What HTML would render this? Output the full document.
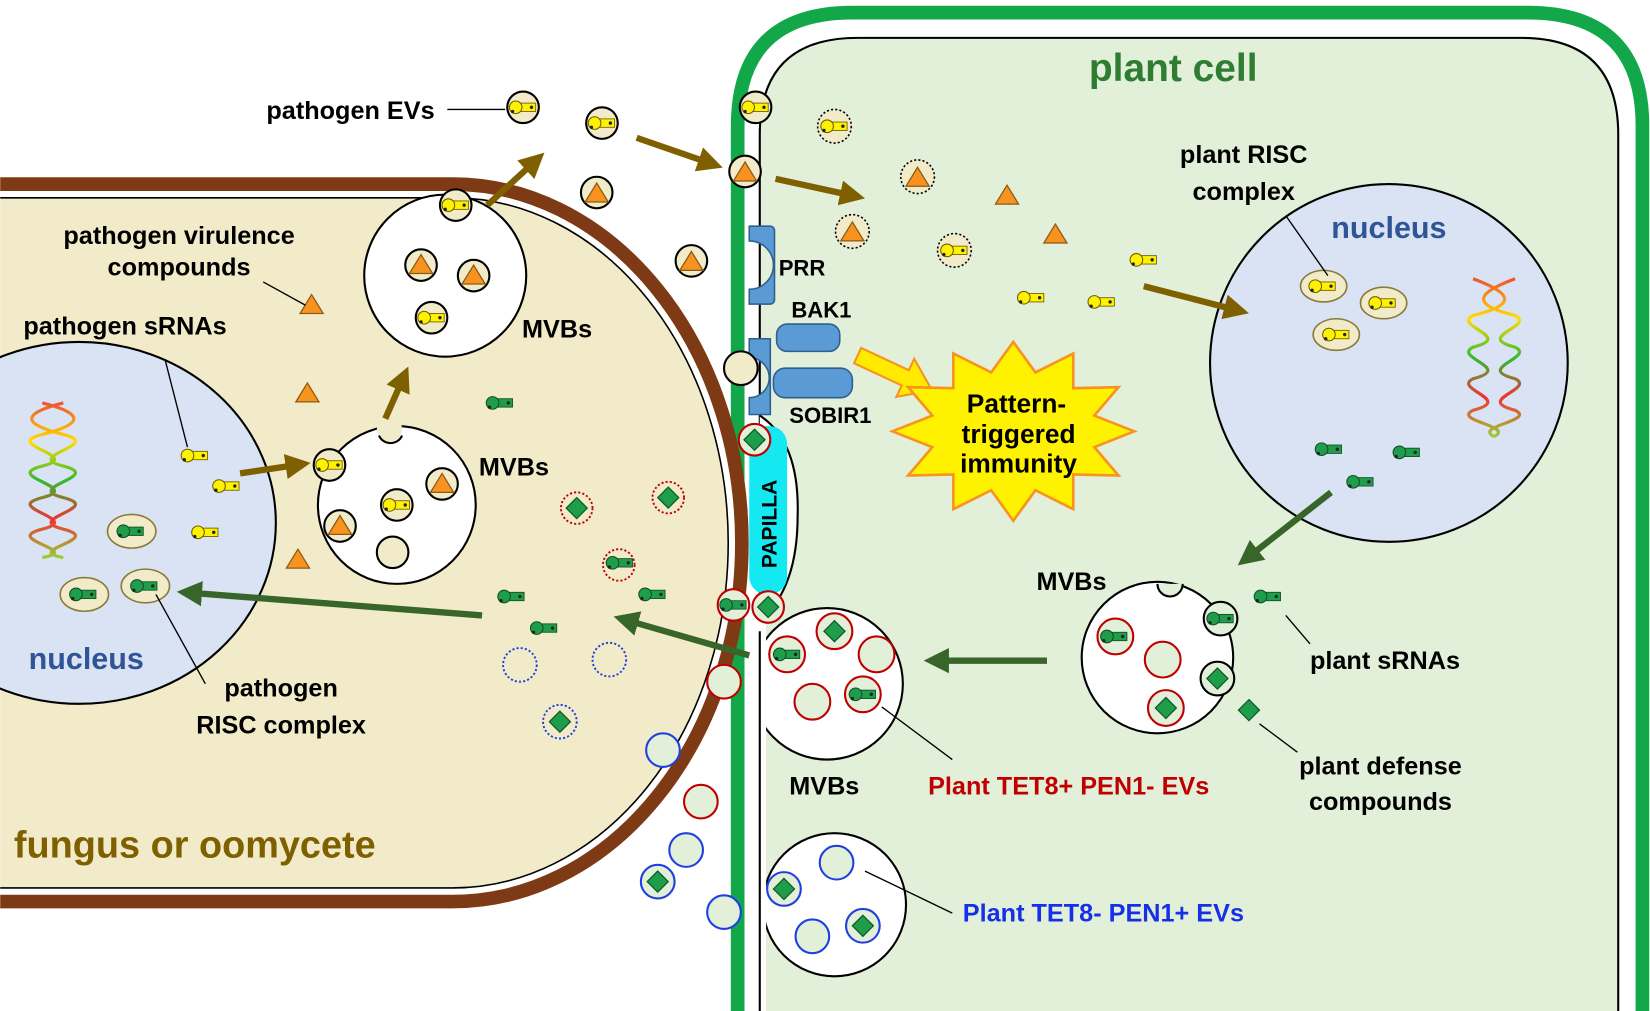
<!DOCTYPE html>
<html><head><meta charset="utf-8"><style>
html,body{margin:0;padding:0;background:#fff;width:1650px;height:1011px;overflow:hidden}
svg{display:block}
text{font-family:"Liberation Sans",sans-serif;font-weight:bold}
</style></head><body>
<svg width="1650" height="1011" viewBox="0 0 1568 961" xmlns="http://www.w3.org/2000/svg">
<defs>
<g id="ys"><rect x="2" y="-4" width="17" height="8" fill="#FFF200" stroke="#6b5a00" stroke-width="0.8"/><circle cx="0" cy="0" r="6" fill="#FFF200" stroke="#6b5a00" stroke-width="1"/><circle cx="-3" cy="4" r="1.6" fill="#222"/><circle cx="15" cy="0" r="1.6" fill="#222"/></g>
<g id="gs"><rect x="2" y="-4" width="17" height="8" fill="#1E9E4A" stroke="#124d26" stroke-width="0.8"/><circle cx="0" cy="0" r="6" fill="#1E9E4A" stroke="#124d26" stroke-width="1"/><circle cx="-3" cy="4" r="1.6" fill="#222"/><circle cx="15" cy="0" r="1.6" fill="#222"/></g>
<polygon id="tri" points="0,-10 11,8 -11,8" fill="#F7931E" stroke="#8a5a14" stroke-width="1.2"/>
<polygon id="dia" points="0,-10 10,0 0,10 -10,0" fill="#1E9E4A" stroke="#0f5a28" stroke-width="1.2"/>
<marker id="ab" viewBox="0 0 10 10" refX="7" refY="5" markerWidth="4" markerHeight="4" orient="auto"><path d="M0,0 L10,5 L0,10 z" fill="#7F6000"/></marker>
<marker id="ag" viewBox="0 0 10 10" refX="7" refY="5" markerWidth="4" markerHeight="4" orient="auto"><path d="M0,0 L10,5 L0,10 z" fill="#38662A"/></marker>
<linearGradient id="dna" x1="0" y1="0" x2="0" y2="1"><stop offset="0" stop-color="#e53"/><stop offset=".25" stop-color="#fd0"/><stop offset=".5" stop-color="#3b3"/><stop offset=".75" stop-color="#e33"/><stop offset="1" stop-color="#9c3"/></linearGradient>
</defs>

<!-- plant cell -->
<path d="M701,970 V120 Q701,12 810,12 H1452 Q1561,12 1561,120 V970" fill="none" stroke="#12A84A" stroke-width="13"/>
<path d="M722,970 V128 Q722,36 815,36 H1446 Q1538,36 1538,128 V970 Z" fill="#E2EFD9" stroke="#000" stroke-width="2"/>

<!-- fungus -->
<path d="M0,175 H430 A275,341 0 0 1 430,857 H0" fill="#fff" stroke="#7E3A14" stroke-width="13"/>
<path d="M0,188 H430 A262,328 0 0 1 430,844 H0 Z" fill="#F2EBC9"/>
<path d="M0,188 H430 A262,328 0 0 1 430,844 H0" fill="none" stroke="#000" stroke-width="1.5"/>

<!-- fungus nucleus -->
<ellipse cx="75" cy="497" rx="187" ry="172" fill="#DAE3F3" stroke="#000" stroke-width="2"/>
<path d="M20,383 C60,393 60,403 20,413 C-20,423 60,433 20,443 C-20,453 60,463 20,473 C-20,483 60,493 20,503 C-20,513 60,523 20,530" transform="translate(20,0)" fill="none" stroke="url(#dna)" stroke-width="3"/>
<path d="M60,383 C20,393 20,403 60,413 C100,423 20,433 60,443 C100,453 20,463 60,473 C100,483 20,493 60,503 C100,513 20,523 60,530" fill="none" stroke="url(#dna)" stroke-width="3"/>

<!-- plant nucleus -->
<circle cx="1320" cy="345" r="170" fill="#DAE3F3" stroke="#000" stroke-width="2"/>
<path d="M1400,265 C1440,280 1440,290 1400,300 C1380,310 1440,320 1400,330 C1380,340 1440,350 1400,360 C1380,370 1440,380 1400,390 C1380,400 1440,405 1420,415" fill="none" stroke="url(#dna)" stroke-width="3"/>
<path d="M1440,265 C1400,280 1400,290 1440,300 C1460,310 1400,320 1440,330 C1460,340 1400,350 1440,360 C1460,370 1400,380 1440,390 C1460,400 1400,405 1420,415" fill="none" stroke="url(#dna)" stroke-width="3"/>

<!-- papilla -->
<path d="M722,395 Q760,420 758,490 Q758,560 722,590" fill="#fff" stroke="#000" stroke-width="2"/>
<rect x="712" y="405" width="36" height="160" rx="17" fill="#14E8F0"/>
<text transform="translate(738,540) rotate(-90)" font-size="20" fill="#000">PAPILLA</text>

<!-- receptors -->
<path d="M712,215 h20 a4,4 0 0 1 4,4 v66 a4,4 0 0 1 -4,4 h-20 v-14 a20,20 0 0 0 0,-46 z" fill="#5B9BD5" stroke="#2e5f8f" stroke-width="1.5"/>
<path d="M712,322 h20 v72 h-20 v-16 a18,18 0 0 0 0,-38 z" fill="#5B9BD5" stroke="#2e5f8f" stroke-width="1.5"/>
<rect x="738" y="308" width="60" height="26" rx="10" fill="#5B9BD5" stroke="#2e5f8f" stroke-width="1.5"/>
<rect x="735" y="350" width="75" height="28" rx="11" fill="#5B9BD5" stroke="#2e5f8f" stroke-width="1.5"/>
<circle cx="704" cy="350" r="16" fill="#F2EBC9" stroke="#000" stroke-width="2"/>

<!-- MVBs -->
<circle cx="423" cy="262" r="77" fill="#fff" stroke="#000" stroke-width="2"/>
<circle cx="377" cy="480" r="75" fill="#fff" stroke="#000" stroke-width="2"/>
<circle cx="370" cy="408" r="12" fill="#F2EBC9"/><path d="M360,414 a12,12 0 0 0 22,0" fill="none" stroke="#000" stroke-width="2"/>
<circle cx="1100" cy="625" r="72" fill="#fff" stroke="#000" stroke-width="2"/>
<path d="M1100,555 a12,12 0 0 0 24,0" fill="#E2EFD9" stroke="#000" stroke-width="2"/>
<circle cx="786" cy="650" r="72" fill="#fff" stroke="#000" stroke-width="2"/>
<circle cx="793" cy="860" r="68" fill="#fff" stroke="#000" stroke-width="2"/>
<rect x="712" y="590" width="16" height="380" fill="#fff"/>
<line x1="722" y1="600" x2="722" y2="970" stroke="#000" stroke-width="2"/>

<!-- vesicles in fungus/outside -->
<g fill="#F2EBC9" stroke="#000" stroke-width="2">
<circle cx="433" cy="195" r="15"/><circle cx="497" cy="102" r="15"/><circle cx="572" cy="117" r="15"/>
<circle cx="718" cy="102" r="15"/><circle cx="708" cy="163" r="15"/><circle cx="567" cy="183" r="15"/><circle cx="657" cy="248" r="15"/>
<circle cx="400" cy="252" r="15"/><circle cx="450" cy="262" r="15"/><circle cx="410" cy="302" r="15"/>
<circle cx="313" cy="442" r="15"/><circle cx="377" cy="480" r="15"/><circle cx="420" cy="460" r="15"/><circle cx="323" cy="500" r="15"/><circle cx="373" cy="525" r="15"/>
</g>
<g fill="#F2EBC9" stroke="#000" stroke-width="1.5" stroke-dasharray="2,2">
<circle cx="793" cy="120" r="16"/><circle cx="872" cy="168" r="16"/><circle cx="810" cy="220" r="16"/><circle cx="907" cy="238" r="16"/>
</g>
<g fill="none" stroke="#C00000" stroke-width="1.8" stroke-dasharray="2,2">
<circle cx="548" cy="483" r="15"/><circle cx="635" cy="473" r="15"/><circle cx="588" cy="537" r="15"/>
</g>
<g fill="none" stroke="#1f3fe0" stroke-width="1.8" stroke-dasharray="2,2">
<circle cx="494" cy="632" r="16"/><circle cx="579" cy="627" r="16"/><circle cx="532" cy="686" r="16"/>
</g>
<g fill="#E2EFD9" stroke="#C00000" stroke-width="2">
<circle cx="717" cy="418" r="15"/><circle cx="697" cy="575" r="15"/><circle cx="730" cy="577" r="15"/><circle cx="688" cy="648" r="16"/><circle cx="666" cy="762" r="16"/>
<circle cx="793" cy="600" r="17"/><circle cx="748" cy="622" r="17"/><circle cx="833" cy="622" r="17"/><circle cx="772" cy="667" r="17"/><circle cx="820" cy="660" r="17"/>
<circle cx="1060" cy="605" r="17"/><circle cx="1105" cy="627" r="17"/><circle cx="1108" cy="673" r="17"/>
</g>
<g fill="#E2EFD9" stroke="#000" stroke-width="2"><circle cx="1160" cy="588" r="16"/><circle cx="1157" cy="645" r="16"/></g>
<g fill="#E2EFD9" stroke="#1f3fe0" stroke-width="2">
<circle cx="630" cy="713" r="16"/><circle cx="652" cy="808" r="16"/><circle cx="625" cy="838" r="16"/><circle cx="688" cy="867" r="16"/>
<circle cx="745" cy="845" r="16"/><circle cx="795" cy="820" r="16"/><circle cx="772" cy="890" r="16"/><circle cx="820" cy="880" r="16"/>
</g>

<!-- RISC clouds -->
<g fill="#F2EBC9" stroke="#8a7a3a" stroke-width="1.5">
<ellipse cx="125" cy="505" rx="23" ry="16"/><ellipse cx="80" cy="565" rx="23" ry="16"/><ellipse cx="138" cy="557" rx="23" ry="16"/>
<ellipse cx="1258" cy="272" rx="22" ry="15"/><ellipse cx="1315" cy="288" rx="22" ry="15"/><ellipse cx="1270" cy="318" rx="22" ry="15"/>
</g>

<!-- triangles -->
<g>
<use href="#tri" x="296" y="290"/><use href="#tri" x="292" y="374"/><use href="#tri" x="283" y="532"/>
<use href="#tri" x="400" y="252"/><use href="#tri" x="450" y="262"/><use href="#tri" x="420" y="460"/><use href="#tri" x="323" y="500"/>
<use href="#tri" x="567" y="184"/><use href="#tri" x="657" y="249"/><use href="#tri" x="708" y="164"/>
<use href="#tri" x="872" y="169"/><use href="#tri" x="810" y="221"/><use href="#tri" x="957" y="186"/><use href="#tri" x="1003" y="223"/>
</g>
<!-- diamonds -->
<g>
<use href="#dia" x="548" y="483"/><use href="#dia" x="635" y="473"/><use href="#dia" x="532" y="686"/>
<use href="#dia" x="717" y="418"/><use href="#dia" x="730" y="577"/><use href="#dia" x="625" y="838"/>
<use href="#dia" x="793" y="600"/><use href="#dia" x="745" y="845"/><use href="#dia" x="820" y="880"/>
<use href="#dia" x="1108" y="673"/><use href="#dia" x="1157" y="645"/><use href="#dia" x="1187" y="675"/>
</g>
<!-- sRNAs -->
<g>
<use href="#ys" x="178" y="433"/><use href="#ys" x="208" y="462"/><use href="#ys" x="188" y="506"/>
<use href="#ys" x="306" y="442"/><use href="#ys" x="370" y="480"/><use href="#ys" x="403" y="302"/><use href="#ys" x="426" y="195"/>
<use href="#ys" x="490" y="102"/><use href="#ys" x="565" y="117"/><use href="#ys" x="711" y="102"/>
<use href="#ys" x="786" y="120"/><use href="#ys" x="900" y="238"/><use href="#ys" x="973" y="283"/><use href="#ys" x="1040" y="287"/><use href="#ys" x="1080" y="247"/>
<use href="#ys" x="1250" y="272"/><use href="#ys" x="1307" y="288"/><use href="#ys" x="1263" y="318"/>
<use href="#gs" x="468" y="383"/><use href="#gs" x="479" y="567"/><use href="#gs" x="510" y="597"/><use href="#gs" x="613" y="565"/><use href="#gs" x="582" y="535"/>
<use href="#gs" x="117" y="505"/><use href="#gs" x="72" y="565"/><use href="#gs" x="130" y="557"/>
<use href="#gs" x="1256" y="427"/><use href="#gs" x="1330" y="430"/><use href="#gs" x="1286" y="458"/>
<use href="#gs" x="1198" y="567"/><use href="#gs" x="1153" y="588"/><use href="#gs" x="1052" y="605"/>
<use href="#gs" x="741" y="622"/><use href="#gs" x="813" y="660"/><use href="#gs" x="690" y="575"/>
</g>

<!-- arrows -->
<g stroke="#7F6000" stroke-width="6" marker-end="url(#ab)">
<line x1="463" y1="195" x2="512" y2="150"/><line x1="605" y1="131" x2="680" y2="157"/>
<line x1="737" y1="170" x2="815" y2="187"/><line x1="1087" y1="272" x2="1180" y2="296"/>
<line x1="366" y1="398" x2="385" y2="355"/><line x1="228" y1="450" x2="288" y2="441"/>
</g>
<g stroke="#38662A" stroke-width="6" marker-end="url(#ag)">
<line x1="1265" y1="468" x2="1182" y2="533"/><line x1="995" y1="628" x2="885" y2="628"/>
<line x1="712" y1="623" x2="590" y2="588"/><line x1="458" y1="585" x2="175" y2="563"/>
</g>

<!-- PTI -->
<g transform="translate(815,338) rotate(25)"><polygon points="0,-8 50,-8 50,-20 78,0 50,20 50,8 0,8" fill="#FFEA00" stroke="#F7931E" stroke-width="2"/></g>
<polygon points="1078,410 1040,425 1063,452 1020,451 1020,484 984,466 963,495 942,466 906,484 906,451 863,452 886,425 848,410 886,395 863,368 906,369 906,336 942,354 963,325 984,354 1020,336 1020,369 1063,368 1040,395" fill="#FFF200" stroke="#F7931E" stroke-width="2.5"/>
<g font-size="25" fill="#000" text-anchor="middle">
<text x="966" y="392">Pattern-</text><text x="968" y="421">triggered</text><text x="968" y="449">immunity</text>
</g>

<!-- leaders -->
<g stroke="#000" stroke-width="1.3" fill="none">
<line x1="425" y1="104" x2="480" y2="104"/><line x1="250" y1="268" x2="290" y2="290"/>
<line x1="157" y1="343" x2="178" y2="425"/><line x1="148" y1="565" x2="195" y2="650"/>
<line x1="1222" y1="205" x2="1262" y2="262"/><line x1="1222" y1="585" x2="1245" y2="612"/>
<line x1="1197" y1="688" x2="1233" y2="715"/><line x1="838" y1="672" x2="905" y2="722"/>
<line x1="822" y1="828" x2="905" y2="868"/>
</g>

<!-- labels -->
<g font-size="24" fill="#000">
<text x="253" y="113">pathogen EVs</text>
<text x="170" y="232" text-anchor="middle">pathogen virulence</text>
<text x="170" y="262" text-anchor="middle">compounds</text>
<text x="22" y="318">pathogen sRNAs</text>
<text x="496" y="321">MVBs</text>
<text x="455" y="452">MVBs</text>
<text x="267" y="662" text-anchor="middle">pathogen</text>
<text x="267" y="697" text-anchor="middle">RISC complex</text>
<text x="1182" y="155" text-anchor="middle">plant RISC</text>
<text x="1182" y="190" text-anchor="middle">complex</text>
<text x="740" y="262" font-size="21">PRR</text>
<text x="752" y="302" font-size="21">BAK1</text>
<text x="750" y="402" font-size="21">SOBIR1</text>
<text x="985" y="561">MVBs</text>
<text x="1245" y="636">plant sRNAs</text>
<text x="1312" y="736" text-anchor="middle">plant defense</text>
<text x="1312" y="770" text-anchor="middle">compounds</text>
<text x="750" y="755">MVBs</text>
<text x="882" y="755" fill="#C00000">Plant TET8+ PEN1- EVs</text>
<text x="915" y="876" fill="#1530E8">Plant TET8- PEN1+ EVs</text>
</g>
<text x="27" y="636" font-size="29" fill="#2F5597">nucleus</text>
<text x="1320" y="226" font-size="29" fill="#2F5597" text-anchor="middle">nucleus</text>
<text x="13" y="815" font-size="36" fill="#7F6000">fungus or oomycete</text>
<text x="1115" y="77" font-size="37" fill="#2E7D32" text-anchor="middle">plant cell</text>
</svg>
</body></html>
